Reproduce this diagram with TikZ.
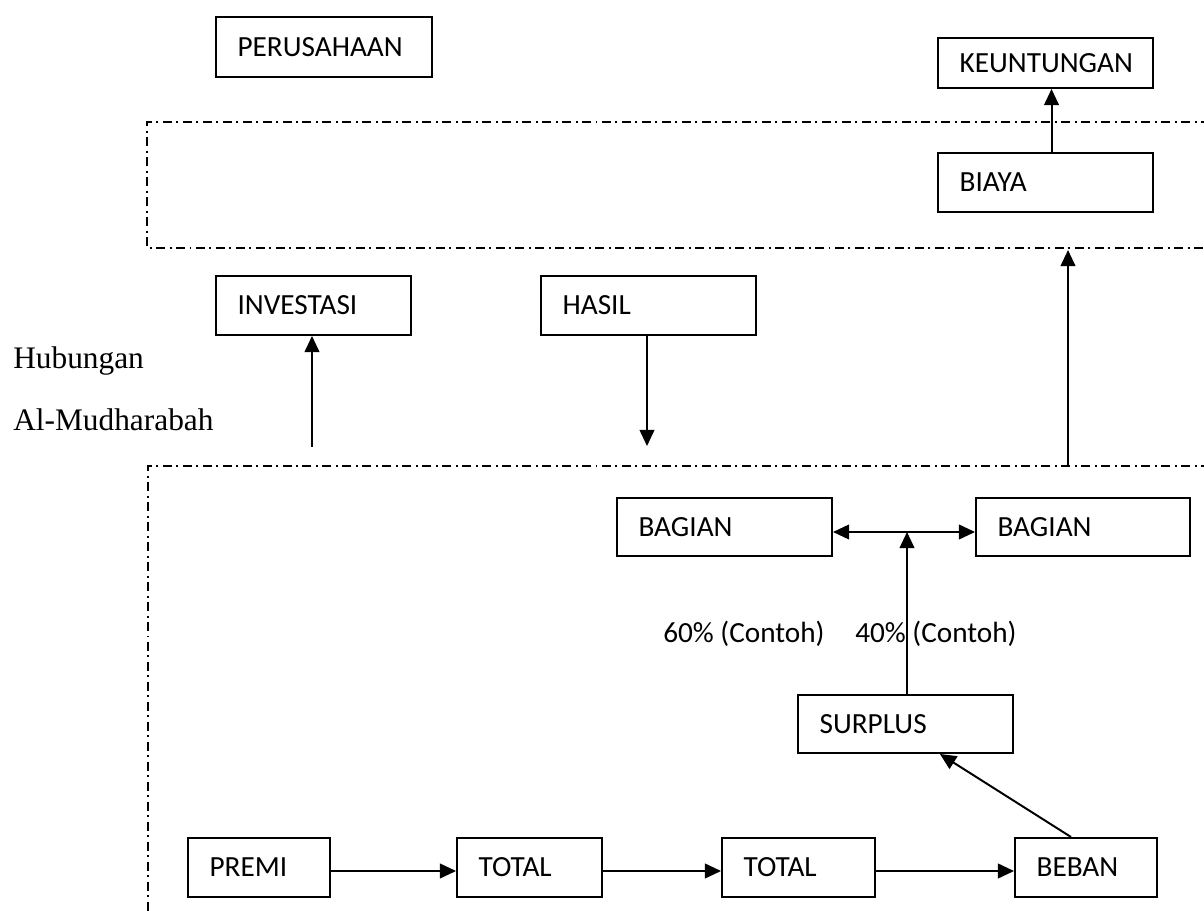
\documentclass[tikz,border=0pt]{standalone}
\usepackage{fontspec}
\setmainfont{Liberation Serif}
\newfontfamily\carlito{Carlito}
\usetikzlibrary{arrows.meta,calc,positioning}

\begin{document}
\begin{tikzpicture}[x=0.025cm,y=-0.025cm,>={Triangle[length=11.5pt,width=10.5pt]},
  kotak/.style={draw,line width=1.4pt,anchor=north west,inner xsep=0.54cm,inner ysep=0pt,align=left,font=\carlito\fontsize{20.8}{24}\selectfont},
  panah/.style={->,line width=1.4pt},
  garis/.style={line width=1.1pt,dash pattern=on 6.4pt off 3.2pt on 1.4pt off 3.2pt},
  teks/.style={anchor=base west,inner sep=0pt,font=\fontsize{22.3}{26}\selectfont}]
\useasboundingbox (0,0) rectangle (1204,911);
\clip (0,0) rectangle (1204,911);
% batas perusahaan / peserta
\draw[garis] (1230,122) -- (147,122) -- (147,248) -- (1230,248);
\draw[garis] (1230,466) -- (148,466) -- (148,940);
% kotak atas
\node[kotak,text width=4.32cm,minimum height=1.5cm] (perusahaan) at (215,16) {PERUSAHAAN};
\node[kotak,text width=4.295cm,minimum height=1.25cm] (keuntungan) at (937,37) {KEUNTUNGAN};
\node[kotak,text width=4.295cm,minimum height=1.475cm] (biaya) at (937,152) {BIAYA};
\node[kotak,text width=3.795cm,minimum height=1.475cm] (investasi) at (215,275) {INVESTASI};
\node[kotak,text width=4.295cm,minimum height=1.475cm] (hasil) at (540,275) {HASIL};
\node[teks] (hubungan) at (13,369) {Hubungan};
\node[teks] (mudharabah) at (13,431) {Al-Mudharabah};
% kotak bawah
\node[kotak,text width=4.295cm,minimum height=1.45cm] (bagianKiri) at (616,497) {BAGIAN};
\node[kotak,text width=4.27cm,minimum height=1.45cm] (bagianKanan) at (975,497) {BAGIAN};
\node[teks,font=\carlito\fontsize{20.8}{24}\selectfont] (persen60) at (663,642) {60\% (Contoh)};
\node[teks,font=\carlito\fontsize{20.8}{24}\selectfont] (persen40) at (855,642) {40\% (Contoh)};
\node[kotak,text width=4.295cm,minimum height=1.45cm] (surplus) at (797,694) {SURPLUS};
\node[kotak,text width=2.47cm,minimum height=1.475cm] (premi) at (187,837) {PREMI};
\node[kotak,text width=2.545cm,minimum height=1.475cm] (total1) at (456,837) {TOTAL};
\node[kotak,text width=2.745cm,minimum height=1.475cm] (total2) at (721,837) {TOTAL};
\node[kotak,text width=2.47cm,minimum height=1.475cm] (beban) at (1014,837) {BEBAN};
\coordinate (invBawah) at (312,447);
\coordinate (hasilBawah) at (647,446);
\coordinate (naikBawah) at (1068,466); \coordinate (naikAtas) at (1068,250);
\coordinate (cabang) at (907,532);
\coordinate (baris) at (0,871);
% panah
\draw[panah] ([xshift=0.15cm]biaya.north) -- ([xshift=0.15cm]keuntungan.south);
\draw[panah] (invBawah) -- (invBawah |- investasi.south);
\draw[panah] (hasilBawah |- hasil.south) -- (hasilBawah);
\draw[panah] (naikBawah) -- (naikAtas);
\draw[panah] (surplus.north -| cabang) -- (cabang);
\draw[panah,<->] (bagianKiri.east |- cabang) -- (bagianKanan.west |- cabang);
\draw[panah] (premi.east |- baris) -- (total1.west |- baris);
\draw[panah] (total1.east |- baris) -- (total2.west |- baris);
\draw[panah] (total2.east |- baris) -- (beban.west |- baris);
\draw[panah] ([xshift=-0.375cm]beban.north) -- ([xshift=0.86cm]surplus.south);
\end{tikzpicture}
\end{document}
